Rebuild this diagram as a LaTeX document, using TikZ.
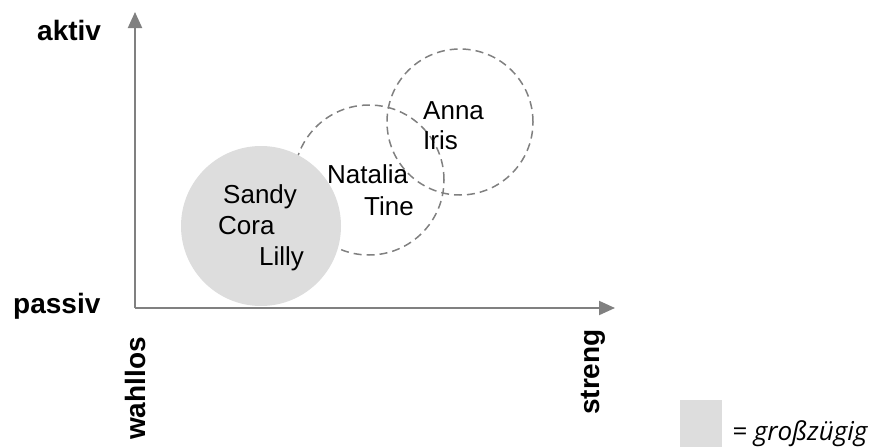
\documentclass[tikz,border=0pt]{standalone}
\usepackage{fontspec}
\setmainfont{Liberation Sans}
\newfontfamily\legendfont{Open Sans}
\usetikzlibrary{arrows.meta}
\definecolor{axisgray}{RGB}{128,128,128}
\definecolor{fillgray}{RGB}{221,221,221}

\begin{document}
\begin{tikzpicture}[x=1pt,y=-1pt,
  axis/.style={draw=axisgray, line width=2pt, -{Triangle[length=16pt,width=14pt]}},
  group/.style={circle, draw=axisgray, dash pattern=on 8pt off 5pt, line width=1.5pt, inner sep=0pt},
  who/.style={anchor=base west, font=\fontsize{26}{30}\selectfont, inner sep=0pt},
  axlabel/.style={anchor=base west, font=\bfseries\fontsize{28}{32}\selectfont, inner sep=0pt}]

  \useasboundingbox (0,0) rectangle (875,447);

  % axes
  \coordinate (origin) at (135,308);
  \coordinate (ytip) at (135,12);
  \coordinate (xtip) at (615,308);
  \draw[axis] (origin) -- (ytip);
  \draw[axis] (origin) -- (xtip);

  % groups
  \node[group, minimum size=146pt] (right) at (460,122) {};
  \node[group, minimum size=150pt] (middle) at (369,180) {};
  \node[circle, fill=fillgray, minimum size=160pt, inner sep=0pt] (core) at (261,226) {};

  % names
  \node[who] (sandy) at (223,203) {Sandy};
  \node[who] (cora) at (218,234) {Cora};
  \node[who] (lilly) at (259,265) {Lilly};
  \node[who] (natalia) at (327,183) {Natalia};
  \node[who] (tine) at (364,215) {Tine};
  \node[who] (anna) at (423,119) {Anna};
  \node[who] (iris) at (423,149) {Iris};

  % axis labels
  \node[axlabel] (aktiv) at (37,40) {aktiv};
  \node[axlabel] (passiv) at (13,313) {passiv};
  \node[axlabel, rotate=90] (wahllos) at (145,440) {wahllos};
  \node[axlabel, rotate=90] (streng) at (599,415) {streng};

  % legend
  \node[fill=fillgray, minimum width=42pt, minimum height=47pt, anchor=north west, inner sep=0pt] (key) at (680,400) {};
  \node[anchor=base west, inner sep=0pt, font=\legendfont\itshape\fontsize{26}{30}\selectfont] (keytext) at (732,440) {= großzügig};
\end{tikzpicture}
\end{document}
